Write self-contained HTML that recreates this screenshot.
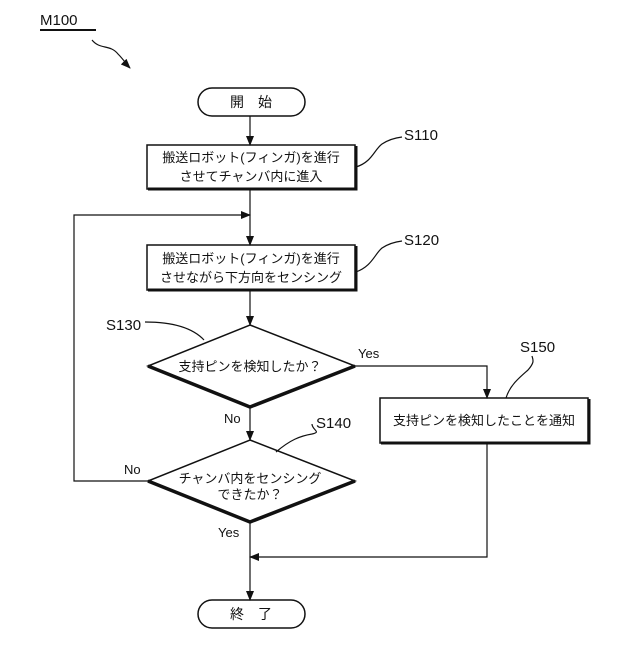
<!DOCTYPE html>
<html><head><meta charset="utf-8"><style>
body{margin:0;background:#fff}
svg text{font-family:"Liberation Sans","Noto Sans CJK JP",sans-serif;fill:#111}
</style></head><body>
<svg width="640" height="640" viewBox="0 0 640 640" xmlns="http://www.w3.org/2000/svg">
<defs><marker id="a" markerWidth="10" markerHeight="8" refX="9" refY="4" orient="auto" markerUnits="userSpaceOnUse"><path d="M0,0 L10,4 L0,8 z" fill="#111"/></marker></defs>
<g stroke="#111" fill="none" stroke-width="1.2">
<!-- M100 -->
<line x1="40" y1="30" x2="96" y2="30" stroke-width="2"/>
<path d="M92,40 C100,50 110,44 118,54 C124,60 126,64 130,68" marker-end="url(#a)"/>
<!-- start -->
<rect x="198" y="88" width="107" height="28" rx="14" stroke-width="1.5"/>
<line x1="250" y1="116" x2="250" y2="145" marker-end="url(#a)"/>
<rect x="147" y="145" width="208" height="44" stroke-width="1.5"/>
<path d="M148,189 H356 V146" stroke-width="3"/>
<line x1="250" y1="189" x2="250" y2="245" marker-end="url(#a)"/>
<rect x="147" y="245" width="208" height="45" stroke-width="1.5"/>
<path d="M148,290 H356 V246" stroke-width="3"/>
<line x1="250" y1="290" x2="250" y2="325" marker-end="url(#a)"/>
<!-- diamond 1 -->
<path d="M250,325 L355,366 L250,407 L148,366 Z" stroke-width="1.5"/>
<path d="M148,366 L250,407 L355,366" stroke-width="3.5"/>
<line x1="250" y1="407" x2="250" y2="440" marker-end="url(#a)"/>
<!-- diamond 2 -->
<path d="M250,440 L355,481 L250,522 L148,481 Z" stroke-width="1.5"/>
<path d="M148,481 L250,522 L355,481" stroke-width="3.5"/>
<line x1="250" y1="522" x2="250" y2="600" marker-end="url(#a)"/>
<!-- loop -->
<polyline points="148,481 74,481 74,215 250,215" marker-end="url(#a)"/>
<!-- yes branch -->
<polyline points="355,366 487,366 487,398" marker-end="url(#a)"/>
<rect x="380" y="398" width="208" height="45" stroke-width="1.5"/>
<path d="M381,443 H589 V399" stroke-width="3"/>
<polyline points="487,443 487,557 250,557" marker-end="url(#a)"/>
<!-- end -->
<rect x="198" y="600" width="107" height="28" rx="14" stroke-width="1.5"/>
<!-- leaders -->
<path d="M356,167 C372,162 374,150 382,144 C388,140 394,138 402,137"/>
<path d="M356,272 C372,266 374,255 382,248 C388,244 394,242 402,241"/>
<path d="M145,322 C165,322 190,325 204,340"/>
<path d="M276,452 C290,440 300,436 312,434 C322,432 312,430 312,424"/>
<path d="M506,398 C510,385 520,377 528,370 C535,362 533,360 532,356"/>
</g>
<g font-size="13">
<text x="40" y="25" font-size="15">M100</text>
<text x="251" y="107" text-anchor="middle" font-size="14">開　始</text>
<text x="251" y="162" text-anchor="middle">搬送ロボット(フィンガ)を進行</text>
<text x="251" y="181" text-anchor="middle">させてチャンバ内に進入</text>
<text x="251" y="263" text-anchor="middle">搬送ロボット(フィンガ)を進行</text>
<text x="251" y="282" text-anchor="middle">させながら下方向をセンシング</text>
<text x="250" y="371" text-anchor="middle">支持ピンを検知したか？</text>
<text x="250" y="483" text-anchor="middle">チャンバ内をセンシング</text>
<text x="250" y="499" text-anchor="middle">できたか？</text>
<text x="484" y="425" text-anchor="middle">支持ピンを検知したことを通知</text>
<text x="251" y="619" text-anchor="middle" font-size="14">終　了</text>
<text x="404" y="140" font-size="15">S110</text>
<text x="404" y="245" font-size="15">S120</text>
<text x="106" y="330" font-size="15">S130</text>
<text x="316" y="428" font-size="15">S140</text>
<text x="520" y="352" font-size="15">S150</text>
<text x="358" y="358">Yes</text>
<text x="224" y="423">No</text>
<text x="124" y="474">No</text>
<text x="218" y="537">Yes</text>
</g>
</svg>
</body></html>
